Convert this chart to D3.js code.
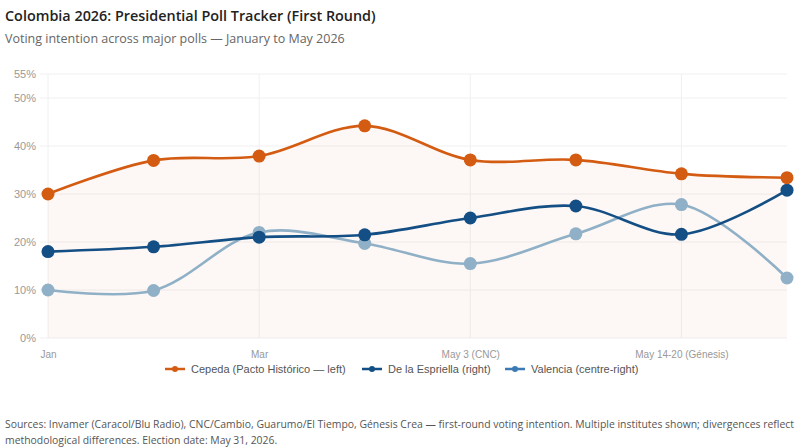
<!DOCTYPE html>
<html><head><meta charset="utf-8">
<script src="https://cdn.jsdelivr.net/npm/d3@7/dist/d3.min.js"></script>
<style>
html,body{margin:0;padding:0;background:#fff;}
svg{display:block;}
</style></head>
<body><svg id="c" width="803" height="447"></svg>
<script>
const categories = ["Jan","Feb","Mar","Apr","May 3 (CNC)","May 10","May 14-20 (Génesis)","May 24"];
const cepeda = [30, 37, 37.9, 44.2, 37.1, 37.1, 34.2, 33.4];
const espriella = [18, 19, 21, 21.5, 25, 27.5, 21.6, 30.8];
const valencia = [10, 9.9, 22, 19.7, 15.5, 21.7, 27.8, 12.5];
const yTicks = [0, 10, 20, 30, 40, 50, 55];
const seriesNames = ["Cepeda (Pacto Histórico — left)", "De la Espriella (right)", "Valencia (centre-right)"];

const svg = d3.select("#c");
const W = 803, H = 447;
const m = {l:48, r:16, t:74, b:109};
const x = d3.scalePoint().domain(categories).range([m.l, W - m.r]);
const y = d3.scaleLinear().domain([0, 55]).range([H - m.b, m.t]);

const titleFont = "'Open Sans', 'Noto Sans', sans-serif";
const chartFont = "'Liberation Sans', Arial, sans-serif";

function fitText(sel, target, base) {
  const w = sel.node().getComputedTextLength();
  sel.attr("font-size", base * target / w);
}

const t1 = svg.append("text").attr("x", 5).attr("y", 21).attr("font-family", titleFont)
  .attr("font-size", 15).attr("font-weight", 600).attr("fill", "#222")
  .text("Colombia 2026: Presidential Poll Tracker (First Round)");
fitText(t1, 371, 15);
const t2 = svg.append("text").attr("x", 5).attr("y", 43).attr("font-family", titleFont)
  .attr("font-size", 13).attr("fill", "#666")
  .text("Voting intention across major polls — January to May 2026");
fitText(t2, 340, 13);

// grid
const g = svg.append("g");
g.selectAll("line.h").data(yTicks).join("line")
  .attr("x1", 40).attr("x2", W - m.r).attr("y1", d => y(d)).attr("y2", d => y(d))
  .attr("stroke", "#f0f0f0").attr("stroke-width", 1);
g.selectAll("line.v").data(categories.filter((d,i) => i % 2 === 0)).join("line")
  .attr("x1", d => x(d)).attr("x2", d => x(d)).attr("y1", y(55)).attr("y2", y(0))
  .attr("stroke", "#f0f0f0").attr("stroke-width", 1);

// y axis labels
const yAxis = d3.axisLeft(y).tickValues(yTicks).tickFormat(d => d + "%").tickSize(0).tickPadding(12);
const ya = svg.append("g").attr("transform", `translate(${m.l},0)`).call(yAxis);
ya.select(".domain").remove();
ya.selectAll("text").attr("font-family", chartFont).attr("font-size", 11).attr("fill", "#999");

// x axis labels
const xAxis = d3.axisBottom(x).tickSize(0).tickPadding(13).tickFormat((d,i) => i % 2 === 0 ? d : "");
const xa = svg.append("g").attr("transform", `translate(0,${y(0)})`).call(xAxis);
xa.select(".domain").remove();
xa.selectAll("text").attr("font-family", chartFont).attr("font-size", 10).attr("fill", "#999");

const curve = d3.curveCatmullRom.alpha(0.5);
// area under Cepeda
const area = d3.area().x((d,i) => x(categories[i])).y0(y(0)).y1(d => y(d)).curve(curve);
svg.append("path").datum(cepeda).attr("d", area).attr("fill", "#d35c12").attr("fill-opacity", 0.045);

const series = [
  {data: valencia, color: "#8fb0c6"},
  {data: espriella, color: "#134e84"},
  {data: cepeda, color: "#d35c12"}
];
const line = d3.line().x((d,i) => x(categories[i])).y(d => y(d)).curve(curve);
series.forEach(s => {
  svg.append("path").datum(s.data).attr("d", line).attr("fill", "none")
    .attr("stroke", s.color).attr("stroke-width", 2.6);
  svg.append("g").selectAll("circle").data(s.data).join("circle")
    .attr("cx", (d,i) => x(categories[i])).attr("cy", d => y(d)).attr("r", 6.5)
    .attr("fill", s.color);
});

// legend
const legendX = [165, 362, 505];
const legendColors = ["#d35c12", "#134e84", "#3c7ab5"];
seriesNames.forEach((n, i) => {
  const lg = svg.append("g").attr("transform", `translate(${legendX[i]},369)`);
  lg.append("line").attr("x1", 0).attr("x2", 20).attr("y1", 0).attr("y2", 0)
    .attr("stroke", legendColors[i]).attr("stroke-width", 2.5);
  lg.append("circle").attr("cx", 10).attr("cy", 0).attr("r", 3).attr("fill", legendColors[i]);
  lg.append("text").attr("x", 26).attr("y", 4).attr("font-family", chartFont)
    .attr("font-size", 11).attr("fill", "#555").text(n);
});

// footer
const f1 = svg.append("text").attr("x", 5).attr("y", 428).attr("font-family", titleFont)
  .attr("font-size", 11).attr("fill", "#555")
  .text("Sources: Invamer (Caracol/Blu Radio), CNC/Cambio, Guarumo/El Tiempo, Génesis Crea — first-round voting intention. Multiple institutes shown; divergences reflect");
fitText(f1, 790, 11);
svg.append("text").attr("x", 5).attr("y", 444).attr("font-family", titleFont)
  .attr("font-size", f1.attr("font-size")).attr("fill", "#555")
  .text("methodological differences. Election date: May 31, 2026.");
</script></body></html>
